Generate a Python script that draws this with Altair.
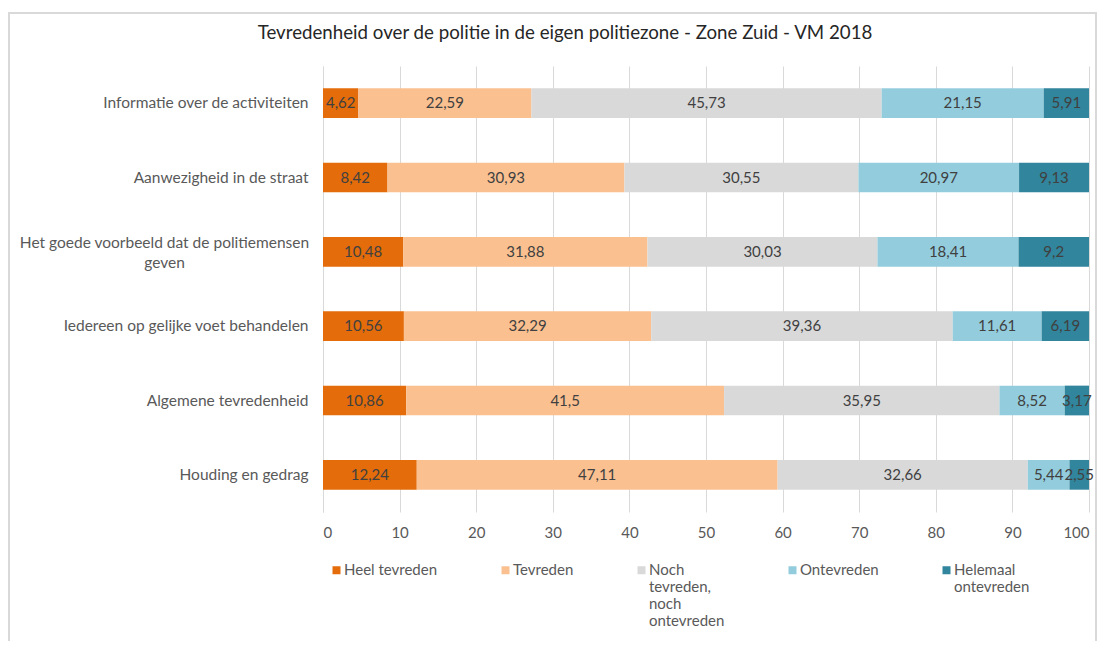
import json
import altair as alt
import pandas as pd

FONT = "Lato"

items = [
    "Informatie over de activiteiten",
    "Aanwezigheid in de straat",
    "Het goede voorbeeld dat de politiemensen geven",
    "Iedereen op gelijke voet behandelen",
    "Algemene tevredenheid",
    "Houding en gedrag",
]
item_lines = {
    "Het goede voorbeeld dat de politiemensen geven": ["Het goede voorbeeld dat de politiemensen", "geven"],
}
categories = [
    "Heel tevreden",
    "Tevreden",
    "Noch tevreden, noch ontevreden",
    "Ontevreden",
    "Helemaal ontevreden",
]
legend_lines = {
    "Heel tevreden": ["Heel tevreden", "", "", ""],
    "Tevreden": ["Tevreden", "", "", ""],
    "Noch tevreden, noch ontevreden": ["Noch", "tevreden,", "noch", "ontevreden"],
    "Ontevreden": ["Ontevreden", "", "", ""],
    "Helemaal ontevreden": ["Helemaal", "ontevreden", "", ""],
}
heel_tevreden = [4.62, 8.42, 10.48, 10.56, 10.86, 12.24]
tevreden = [22.59, 30.93, 31.88, 32.29, 41.5, 47.11]
noch = [45.73, 30.55, 30.03, 39.36, 35.95, 32.66]
ontevreden = [21.15, 20.97, 18.41, 11.61, 8.52, 5.44]
helemaal = [5.91, 9.13, 9.2, 6.19, 3.17, 2.55]
colors = ["#E46C0A", "#FAC090", "#D9D9D9", "#93CDDD", "#31859C"]
x_ticks = list(range(0, 101, 10))
title = "Tevredenheid over de politie in de eigen politiezone - Zone Zuid - VM 2018"

series = [heel_tevreden, tevreden, noch, ontevreden, helemaal]
rows = []
for i, item in enumerate(items):
    for j, (cat, vals) in enumerate(zip(categories, series)):
        rows.append({"item": item, "cat": cat, "order": j, "value": vals[i]})
df = pd.DataFrame(rows)


def label_expr(mapping):
    expr = "datum.label"
    for k, v in mapping.items():
        expr = f"datum.label == {json.dumps(k)} ? {json.dumps(v)} : ({expr})"
    return expr


wrapped = json.dumps(items[2])

base = alt.Chart(df).transform_stack(
    stack="value", groupby=["item"], as_=["x0", "x1"],
    sort=[alt.SortField("order", order="ascending")],
).transform_calculate(
    mid="(datum.x0 + datum.x1) / 2",
    label="replace(toString(datum.value), '.', ',')",
)

y_enc = alt.Y(
    "item:N", sort=items,
    scale=alt.Scale(paddingInner=0.6, paddingOuter=0.3),
    axis=alt.Axis(
        title=None, ticks=False, domain=True, domainColor="#D9D9D9", domainWidth=1,
        labelFontSize=15.5, labelColor="#595959", labelLimit=400,
        labelFont=FONT, labelExpr=label_expr(item_lines), labelLineHeight=20,
        labelAlign=alt.ExprRef(f"datum.value == {wrapped} ? 'center' : 'right'"),
        labelPadding=alt.ExprRef(f"datum.value == {wrapped} ? 159 : 15"),
        labelOffset=alt.ExprRef(f"datum.value == {wrapped} ? -9 : 0"),
    ),
)

bars = base.mark_bar().encode(
    x=alt.X(
        "x0:Q", scale=alt.Scale(domain=[0, 100], nice=False),
        axis=alt.Axis(
            values=x_ticks, title=None, grid=True, gridColor="#D9D9D9",
            domain=False, ticks=False, labelFontSize=15, labelColor="#595959",
            labelPadding=13, labelFont=FONT,
        ),
    ),
    x2="x1:Q",
    y=y_enc,
    color=alt.Color(
        "cat:N",
        scale=alt.Scale(domain=categories, range=colors),
        legend=alt.Legend(
            title=None, orient="none", legendX=6, legendY=489,
            direction="horizontal", columns=5,
            symbolType="M-1,0.875H1V2.875H-1Z",
            symbolSize=64, symbolStrokeWidth=0, labelFontSize=15,
            labelColor="#595959", labelFont=FONT, columnPadding=60,
            labelExpr=label_expr(legend_lines), labelBaseline="top",
            labelLimit=200, labelOffset=0,
        ),
    ),
)

text = base.mark_text(font=FONT, fontSize=15, color="#404040").encode(
    x="mid:Q",
    y=alt.Y("item:N", sort=items),
    text="label:N",
)

frame = alt.Chart(pd.DataFrame({"k": [0]})).mark_rect(
    filled=False, stroke="#D9D9D9", strokeWidth=2
).encode(
    x=alt.value(-314), x2=alt.value(773), y=alt.value(-53), y2=alt.value(700)
)

title_mark = alt.Chart(pd.DataFrame({"t": [title]})).mark_text(
    font=FONT, fontSize=18.7, color="#262626", baseline="middle", align="center"
).encode(
    x=alt.value(242), y=alt.value(-33), text="t:N"
)

chart = alt.layer(frame, bars, text, title_mark).properties(
    width=766,
    height=446,
    padding={"left": 315, "top": 58, "right": 16, "bottom": 129},
    autosize=alt.AutoSizeParams(type="none"),
).configure_view(stroke="transparent")

chart.save("out.html", embed_options={"renderer": "svg", "actions": False})
